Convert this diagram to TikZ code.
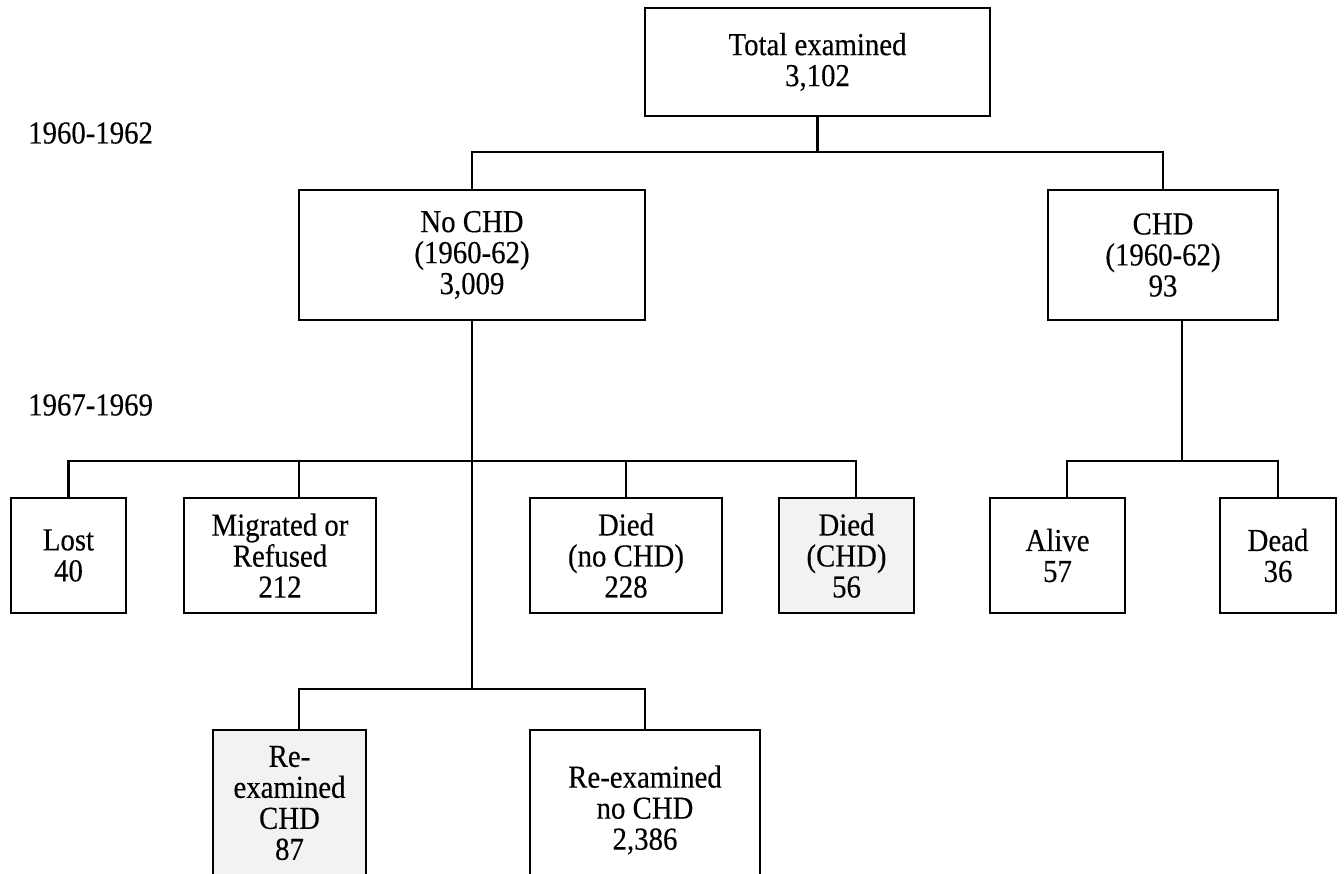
\documentclass[tikz,border=0pt]{standalone}
\usepackage{fontspec}
\setmainfont[FakeStretch=0.9, FakeBold=0.3]{Liberation Serif}
\definecolor{boxgray}{HTML}{F2F2F2}
\tikzset{
  flow box/.style={draw, line width=1.2pt, align=center, inner sep=0pt,
    font=\fontsize{16}{15.5}\selectfont},
  shaded/.style={fill=boxgray},
  year/.style={anchor=west, inner sep=0pt, font=\fontsize{16}{15.5}\selectfont},
}

\begin{document}
\begin{tikzpicture}[x=0.5pt, y=-0.5pt, line width=1.2pt]
	\useasboundingbox (0,0) rectangle (1344,873);
	\clip (0,0) rectangle (1344,873);

	\node[year] (first exam) at (27,133) {1960-1962};
	\node[year] (second exam) at (27,405) {1967-1969};

	% 1960-62
	\node[flow box, minimum width=172.5pt, minimum height=54pt] (total) at (817.5,62) {Total examined\\3,102};
	\node[flow box, minimum width=173pt, minimum height=65pt] (nochd) at (472,255) {No CHD\\(1960-62)\\3,009};
	\node[flow box, minimum width=115pt, minimum height=65pt] (chd) at (1163,255) {CHD\\(1960-62)\\93};

	% 1967-69
	\node[flow box, minimum width=57.5pt, minimum height=57.5pt] (lost) at (68.5,555.5) {Lost\\40};
	\node[flow box, minimum width=96pt, minimum height=57.5pt] (migr) at (280,555.5) {Migrated or\\Refused\\212};
	\node[flow box, minimum width=96pt, minimum height=57.5pt] (died1) at (626,555.5) {Died\\(no CHD)\\228};
	\node[flow box, shaded, minimum width=67.5pt, minimum height=57.5pt] (died2) at (846.5,555.5) {Died\\(CHD)\\56};
	\node[flow box, minimum width=67.5pt, minimum height=57.5pt] (alive) at (1057.5,555.5) {Alive\\57};
	\node[flow box, minimum width=58pt, minimum height=57.5pt] (dead) at (1278,555.5) {Dead\\36};

	\node[flow box, shaded, minimum width=76.5pt, minimum height=73pt] (rechd) at (289.5,803) {Re-\\examined\\CHD\\87};
	\node[flow box, minimum width=115pt, minimum height=80pt] (renochd) at (645,810) {Re-examined\\no CHD\\2,386};

	% connectors
	\coordinate (top bus) at (817.5,152);
	\coordinate (mid bus) at (472,461);
	\coordinate (low bus) at (472,689);
	\coordinate (migr in) at ([xshift=9.5pt]migr.north);
	\coordinate (died2 in) at ([xshift=4.75pt]died2.north);
	\coordinate (chd out) at ([xshift=9.5pt]chd.south);
	\coordinate (alive in) at ([xshift=4.75pt]alive.north);
	\coordinate (rechd in) at ([xshift=4.75pt]rechd.north);
	\coordinate (chd bus) at (chd out |- mid bus);

	\draw (total.south) -- (top bus);
	\draw (nochd.north) |- (top bus) -| (chd.north);

	\draw (nochd.south) -- (low bus);
	\draw (lost.north) |- (mid bus) -| (died2 in);
	\draw (migr in) -- (migr in |- mid bus);
	\draw (died1.north) -- (died1.north |- mid bus);

	\draw (chd out) -- (chd bus);
	\draw (alive in) |- (chd bus) -| (dead.north);

	\draw (rechd in) |- (low bus) -| (renochd.north);
\end{tikzpicture}
\end{document}
